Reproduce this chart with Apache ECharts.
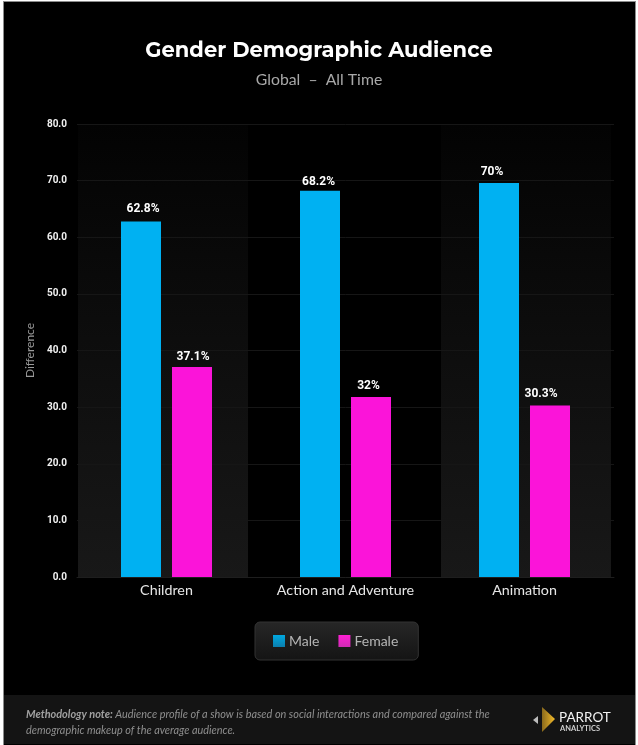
<!DOCTYPE html>
<html><head><meta charset="utf-8">
<style>html,body{margin:0;padding:0;background:#fff}#c{width:638px;height:745px}</style>
<script src="https://cdn.jsdelivr.net/npm/echarts@6/dist/echarts.min.js"></script>
</head><body><div id="c"></div>
<script>
const categories = ['Children', 'Action and Adventure', 'Animation'];
const maleValues = [62.8, 68.2, 69.6];
const femaleValues = [37.1, 31.8, 30.3];
const maleLabels = ['62.8%', '68.2%', '70%'];
const femaleLabels = ['37.1%', '32%', '30.3%'];
const yTicks = {min: 0, max: 80, interval: 10};
const titleText = 'Gender Demographic Audience';
const subtitleText = 'Global  –  All Time';
const noteBold = 'Methodology note:';
const noteLine1 = ' Audience profile of a show is based on social interactions and compared against the';
const noteLine2 = 'demographic makeup of the average audience.';
const maleLabelNudge = [[2, -1], [-1.5, 2], [-7, 0]];
const femaleLabelNudge = [[1, 1], [-2.5, 0], [-9, 0]];

const UI = 'Lato, "Open Sans", sans-serif';
const NARROW = 'Roboto, "Liberation Sans", sans-serif';
const band = () => new echarts.graphic.LinearGradient(0, 0, 0, 1, [
  {offset: 0, color: '#030303'}, {offset: 1, color: '#181818'}]);

const chart = echarts.init(document.getElementById('c'), null, {renderer: 'canvas'});
const barLabel = (arr) => ({
  show: true, position: 'top', distance: 5,
  color: '#fff', fontFamily: NARROW, fontWeight: 'bold', fontSize: 12,
  formatter: p => arr[p.dataIndex]
});
const nudged = (vals, nudges) => vals.map((v, i) => ({value: v, label: {offset: nudges[i]}}));
chart.setOption({
  animation: false,
  backgroundColor: '#fff',
  title: [
    {text: titleText, left: 'center', top: 35,
     textStyle: {color: '#fff', fontFamily: 'Montserrat, Inter, ' + UI, fontSize: 21, fontWeight: 'bold'}},
    {text: subtitleText, left: 'center', top: 67,
     textStyle: {color: '#a8a8a8', fontFamily: UI, fontSize: 15.8, fontWeight: 'normal'}}
  ],
  grid: {left: 77, right: 24, top: 124, bottom: 168, containLabel: false},
  legend: {
    left: 255, top: 622,
    padding: [12, 20, 12, 18], itemGap: 19, itemWidth: 12, itemHeight: 12,
    backgroundColor: new echarts.graphic.LinearGradient(0, 0, 0, 1, [
      {offset: 0, color: '#272727'}, {offset: 1, color: '#141414'}]),
    borderColor: '#333', borderWidth: 1, borderRadius: 5,
    textStyle: {color: '#b5b5b5', fontFamily: UI, fontSize: 14, padding: [0, 0, 0, -1]},
    data: [
      {name: 'Male', icon: 'rect', itemStyle: {color: new echarts.graphic.LinearGradient(0, 0, 0, 1, [
        {offset: 0, color: '#00a8e0'}, {offset: 1, color: '#0b7fae'}])}},
      {name: 'Female', icon: 'rect', itemStyle: {color: new echarts.graphic.LinearGradient(0, 0, 0, 1, [
        {offset: 0, color: '#ff1fd4'}, {offset: 1, color: '#d02cb4'}])}}
    ]
  },
  xAxis: {
    type: 'category', data: categories,
    axisLine: {show: true, lineStyle: {color: '#1e1e1e'}},
    axisTick: {show: false},
    axisLabel: {color: '#e6e6e6', fontFamily: UI, fontSize: 14.3, margin: 6}
  },
  yAxis: {
    type: 'value', min: yTicks.min, max: yTicks.max, interval: yTicks.interval,
    name: 'Difference', nameLocation: 'middle', nameGap: 29,
    nameTextStyle: {color: '#9a9a9a', fontFamily: UI, fontSize: 12},
    axisLine: {show: false}, axisTick: {show: false},
    axisLabel: {color: '#f0f0f0', fontFamily: NARROW, fontWeight: 'bold', fontSize: 10, margin: 10,
      padding: [3, 0, 0, 0], formatter: v => v.toFixed(1)},
    splitLine: {show: true, lineStyle: {color: '#161616', width: 1}}
  },
  series: [
    {name: 'Male', type: 'bar', data: nudged(maleValues, maleLabelNudge), barWidth: 40, barGap: '27.5%',
     itemStyle: {color: '#00b1f2'}, label: barLabel(maleLabels), z: 3},
    {name: 'Female', type: 'bar', data: nudged(femaleValues, femaleLabelNudge), barWidth: 40,
     itemStyle: {color: '#fb14d9'}, label: barLabel(femaleLabels), z: 3}
  ],
  graphic: [
    {type: 'rect', z: -10, shape: {x: 0, y: 0, width: 638, height: 745}, style: {fill: '#fff'}},
    {type: 'rect', z: -9, shape: {x: 3, y: 1, width: 633, height: 744}, style: {fill: '#8c8c8c'}},
    {type: 'rect', z: -8, shape: {x: 4, y: 2, width: 631, height: 743}, style: {fill: '#000'}},
    {type: 'rect', z: -7, shape: {x: 78, y: 124, width: 170, height: 453}, style: {fill: band()}},
    {type: 'rect', z: -7, shape: {x: 441, y: 124, width: 170, height: 453}, style: {fill: band()}},
    {type: 'rect', z: -7, shape: {x: 4, y: 695, width: 631, height: 49}, style: {fill: '#141414'}},
    {type: 'text', z: 5, x: 26, y: 706, style: {
      text: '{b|' + noteBold + '}' + noteLine1 + '\n' + noteLine2,
      fill: '#8f8f8f', font: 'italic 10.9px ' + UI, lineHeight: 16,
      rich: {b: {fontWeight: 'bold', fontStyle: 'italic', fontFamily: 'Lato', fontSize: 10.9, fill: '#a0a0a0', lineHeight: 16}}
    }},
    {type: 'polygon', z: 5, shape: {points: [[533, 720], [538, 716], [538, 724]]}, style: {fill: '#bdbdbd'}},
    {type: 'polygon', z: 5, shape: {points: [[542, 707], [555, 719], [542, 732]]}, style: {
      fill: new echarts.graphic.LinearGradient(0, 0, 1, 0, [{offset: 0, color: '#8a6a1c'}, {offset: 1, color: '#f4bb2a'}])}},
    {type: 'text', z: 5, x: 559, y: 711, style: {text: 'PARROT', fill: '#f2f2f2', font: '13.5px ' + UI}},
    {type: 'text', z: 5, x: 560, y: 725, style: {text: 'ANALYTICS', fill: '#cfcfcf', font: 'bold 7.5px ' + UI}}
  ]
});
</script></body></html>
